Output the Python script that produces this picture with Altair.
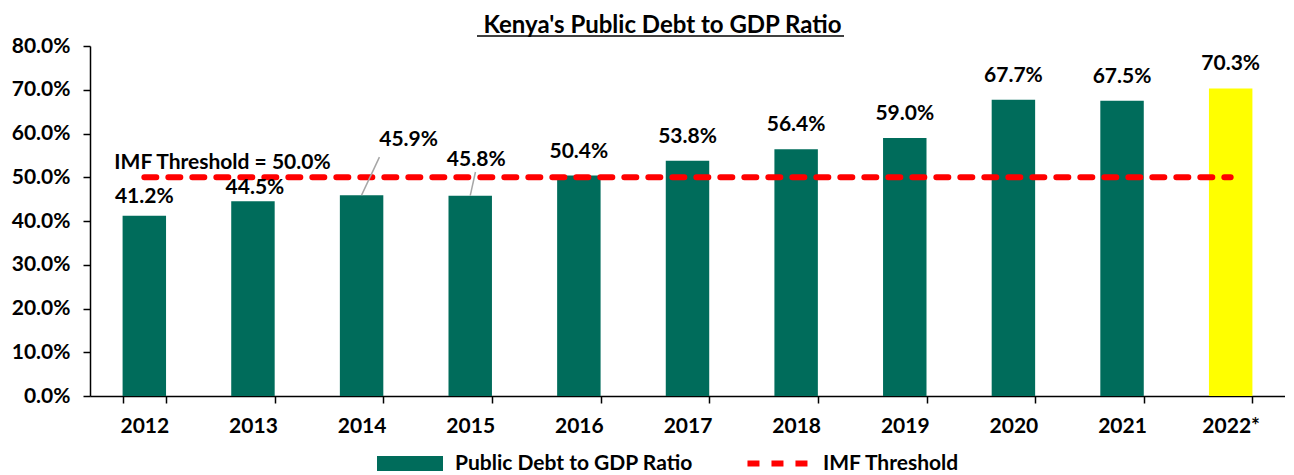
import altair as alt
import pandas as pd

years = ["2012", "2013", "2014", "2015", "2016", "2017", "2018", "2019", "2020", "2021", "2022*"]
ratios = [41.2, 44.5, 45.9, 45.8, 50.4, 53.8, 56.4, 59.0, 67.7, 67.5, 70.3]
kinds = ["Public Debt to GDP Ratio"] * 10 + ["Projection"]
threshold = 50.0
y_ticks = [0, 10, 20, 30, 40, 50, 60, 70, 80]

FONT = "Lato"
GREEN = "#006C5B"
YELLOW = "#FFFF00"
RED = "#FF0000"
FS = 21

df = pd.DataFrame({"year": years, "ratio": ratios, "kind": kinds})
df["label"] = [f"{v:.1f}%" for v in ratios]
thr = pd.DataFrame({"year": years, "thr": [threshold] * len(years), "series": ["IMF Threshold"] * len(years)})

W, H = 1195, 350

xenc = alt.X("year:N", sort=years, title=None,
             scale=alt.Scale(paddingInner=0.6, paddingOuter=0.3),
             axis=alt.Axis(labelAngle=0, labelFont=FONT, labelFontSize=FS, labelFontWeight="bold",
                           labelColor="black", tickBand="extent", tickSize=7, tickColor="black",
                           tickWidth=1.5, domainColor="black", domainWidth=1.5, labelPadding=12))
yscale = alt.Scale(domain=[0, 80])
yenc = alt.Y("ratio:Q", scale=yscale, title=None,
             axis=alt.Axis(values=y_ticks, labelExpr="format(datum.value, '.1f') + '%'",
                           labelFont=FONT, labelFontSize=FS, labelFontWeight="bold", labelColor="black",
                           grid=False, tickSize=7, tickColor="black", tickWidth=1.5,
                           domainColor="black", domainWidth=1.5, labelPadding=13))

base = alt.Chart(df)

legend_common = dict(title=None, orient="none", direction="horizontal", symbolSize=225,
                     labelFont=FONT, labelFontSize=FS, labelFontWeight="bold", labelColor="black",
                     padding=0)

bars = base.mark_bar().encode(
    x=xenc, y=yenc,
    color=alt.Color("kind:N", scale=alt.Scale(domain=["Public Debt to GDP Ratio", "Projection"], range=[GREEN, YELLOW]),
                    legend=alt.Legend(values=["Public Debt to GDP Ratio"],
                                      symbolType="M-1,-1H7.8V1H-1Z", symbolStrokeWidth=0,
                                      symbolOpacity=1, labelOffset=60, legendX=284, legendY=407,
                                      **legend_common)),
)

line = alt.Chart(thr).mark_line(color=RED, strokeWidth=6, strokeCap="round").encode(
    x=alt.X("year:N", sort=years),
    y=alt.Y("thr:Q", scale=yscale),
    strokeDash=alt.StrokeDash("series:N", scale=alt.Scale(domain=["IMF Threshold"], range=[[12, 12]]),
                              legend=alt.Legend(symbolType="M-0.67,0H7.33", symbolStrokeWidth=6,
                                                symbolStrokeColor=RED, labelOffset=60,
                                                legendX=652, legendY=407, **legend_common)),
)

txt = dict(font=FONT, fontSize=FS, fontWeight="bold", color="black", baseline="alphabetic")
normal_years = ["2016", "2017", "2018", "2019", "2020", "2021", "2022*"]


def lab(filt, **kw):
    return base.transform_filter(filt).mark_text(**txt, **kw).encode(
        x=alt.X("year:N", sort=years), y=alt.Y("ratio:Q", scale=yscale), text="label:N")


labels_main = lab(alt.FieldOneOfPredicate(field="year", oneOf=normal_years), dy=-18)
lab2012 = lab(alt.datum.year == "2012", dy=-13)
lab2013 = lab(alt.datum.year == "2013", dy=-7, dx=2)
lab2014 = lab(alt.datum.year == "2014", dy=-49, dx=47)
lab2015 = lab(alt.datum.year == "2015", dy=-30, dx=6)

lead2014 = base.transform_filter(alt.datum.year == "2014").mark_rule(color="#A6A6A6", strokeWidth=1.5).encode(
    x=alt.X("year:N", sort=years), x2=alt.X2("year", bandPosition=0.91),
    y=alt.Y("ratio:Q", scale=yscale), y2=alt.Y2(datum=54.6))
lead2015 = base.transform_filter(alt.datum.year == "2015").mark_rule(color="#A6A6A6", strokeWidth=1.5).encode(
    x=alt.X("year:N", sort=years), x2=alt.X2("year", bandPosition=0.62),
    y=alt.Y("ratio:Q", scale=yscale), y2=alt.Y2(datum=51.2))

imf_text = alt.Chart(pd.DataFrame({"year": [years[0]], "thr": [threshold], "t": [f"IMF Threshold = {threshold:.1f}%"]})).mark_text(
    align="left", dx=-30, dy=-8, **txt).encode(
    x=alt.X("year:N", sort=years), y=alt.Y("thr:Q", scale=yscale), text="t:N")

underline = alt.Chart(pd.DataFrame({"a": [0]})).mark_rule(color="black", strokeWidth=1.5).encode(
    x=alt.value(387), x2=alt.value(754), y=alt.value(-10))

chart = alt.layer(bars, line, lead2014, lead2015, labels_main, lab2012, lab2013, lab2014, lab2015, imf_text, underline).properties(
    width=W, height=H,
    padding={"left": 3, "top": 6, "right": 0, "bottom": 0},
    title=alt.TitleParams("Kenya's Public Debt to GDP Ratio", font=FONT, fontSize=24, fontWeight="bold",
                          color="black", anchor="middle", dx=-25, offset=-3),
).resolve_scale(color="independent").configure_view(stroke=None).configure_legend(
    labelLimit=400
)

chart.save("out.html", embed_options={"renderer": "svg", "actions": False})
